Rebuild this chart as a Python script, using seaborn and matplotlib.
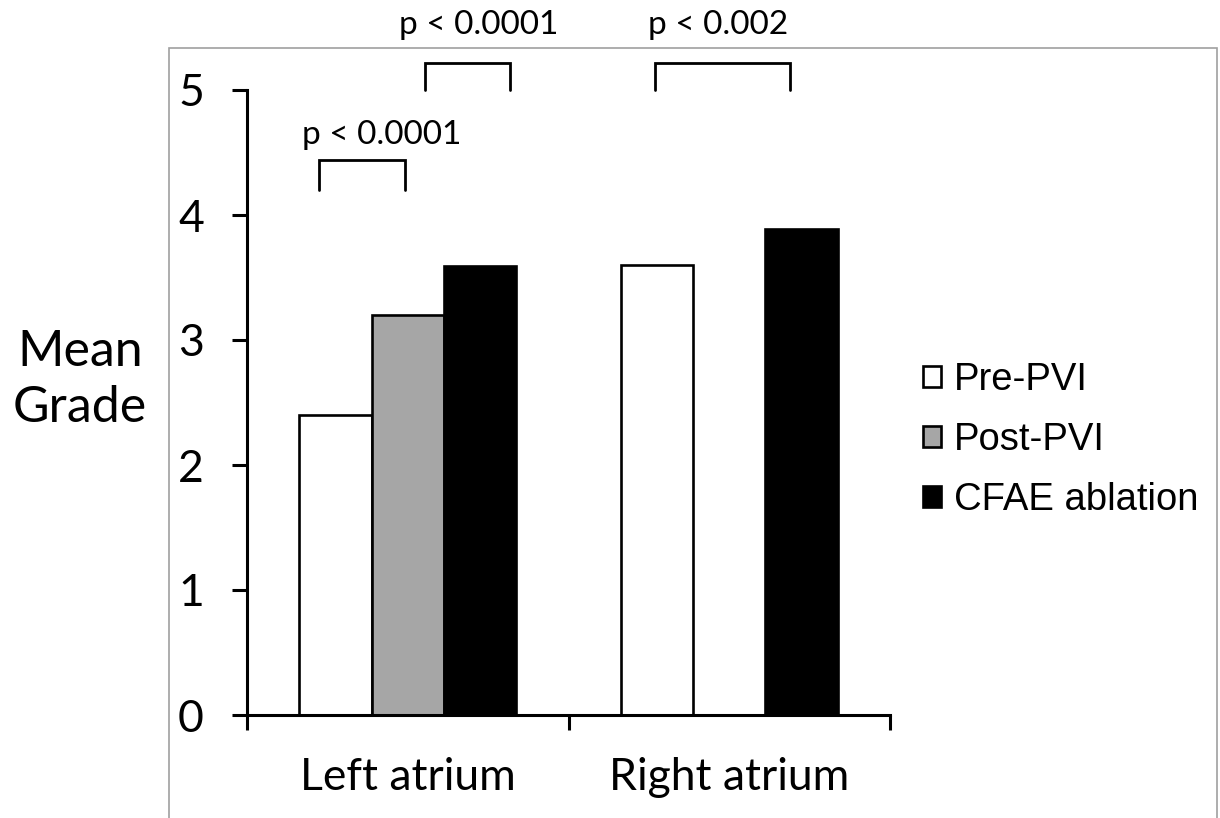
import numpy as np
import pandas as pd
import matplotlib
matplotlib.use("Agg")
import matplotlib.pyplot as plt
from matplotlib.patches import Rectangle
import seaborn as sns

# Data
chambers = ["Left atrium", "Right atrium"]
phases = ["Pre-PVI", "Post-PVI", "CFAE ablation"]
pre_pvi = [2.4, 3.6]
post_pvi = [3.2, np.nan]
cfae = [3.59, 3.89]
y_ticks = [0, 1, 2, 3, 4, 5]

# p-value brackets: (x_left, x_right, y_top, y_leg, label, label_x, label_y)
brackets = [
    (-0.276, -0.009, 4.44, 4.20, "p < 0.0001", -0.08, 4.64),
    (0.054, 0.318, 5.22, 5.00, "p < 0.0001", 0.22, 5.52),
    (0.769, 1.189, 5.22, 5.00, "p < 0.002", 0.965, 5.52),
]

df = pd.DataFrame({
    "Chamber": np.repeat(chambers, len(phases)),
    "Phase": phases * len(chambers),
    "Grade": [v for pair in zip(pre_pvi, post_pvi, cfae) for v in pair],
})

sns.set_theme(style="white")
plt.rcParams["font.family"] = ["Lato", "DejaVu Sans"]
plt.rcParams["text.color"] = "black"
plt.rcParams["xtick.labelcolor"] = "black"
plt.rcParams["ytick.labelcolor"] = "black"

fig = plt.figure(figsize=(12.2, 8.18), dpi=100)
ax = fig.add_axes([247 / 1220, 1 - 715 / 818, (890 - 247) / 1220, (715 - 90) / 818])

palette = {"Pre-PVI": "white", "Post-PVI": "#a6a6a6", "CFAE ablation": "black"}
sns.barplot(data=df, x="Chamber", y="Grade", hue="Phase", hue_order=phases,
            order=chambers, palette=palette, width=0.675, edgecolor="black",
            linewidth=1.9, saturation=1, ax=ax, legend=True)

ax.set_xlim(-0.5, 1.5)
ax.set_ylim(0, 5)
ax.set_yticks(y_ticks)
ax.set_yticklabels([str(t) for t in y_ticks])
ax.set_xlabel("")
ax.set_ylabel("")
for side in ["top", "right"]:
    ax.spines[side].set_visible(False)
for side in ["left", "bottom"]:
    ax.spines[side].set_linewidth(2.2)
    ax.spines[side].set_color("black")

ax.tick_params(axis="y", which="major", direction="out", length=11, width=2.2,
               color="black", labelcolor="black", labelsize=32, pad=20, left=True)
ax.set_xticks([0, 1])
ax.set_xticklabels(chambers)
ax.set_xticks([-0.5, 0.5, 1.5], minor=True)
ax.tick_params(axis="x", which="major", length=0, labelsize=32, pad=30,
               labelcolor="black")
ax.tick_params(axis="x", which="minor", direction="out", length=11, width=2.2,
               color="black", bottom=True)

# Significance brackets
for x0, x1, yt, yl, label, lx, ly in brackets:
    ax.plot([x0, x0, x1, x1], [yl, yt, yt, yl], color="black", lw=2.0,
            clip_on=False, solid_joinstyle="miter")
    ax.text(lx, ly, label, ha="center", va="center", fontsize=24,
            color="black", clip_on=False)

# Legend
handles, labels = ax.get_legend_handles_labels()
ax.get_legend().remove()
fig.legend(handles, labels, loc="upper left",
           bbox_to_anchor=(923 / 1220, 1 - 362 / 818), frameon=False,
           prop={"family": ["Liberation Sans"], "size": 27.5},
           labelcolor="black",
           handlelength=0.48, handleheight=0.48, handletextpad=0.32,
           labelspacing=0.63, borderpad=0, borderaxespad=0)

fig.text(80 / 1220, 1 - 380 / 818, "Mean\nGrade", ha="center", va="center",
         fontsize=36, linespacing=1.25, color="black")

# Outer frame
fig.patches.append(Rectangle((169 / 1220, -0.01), (1217 - 169) / 1220, 1.01 - 48 / 818,
                             transform=fig.transFigure, fill=False,
                             edgecolor="#a0a0a0", lw=1.2, zorder=0))

fig.savefig("out.png", dpi=100)
